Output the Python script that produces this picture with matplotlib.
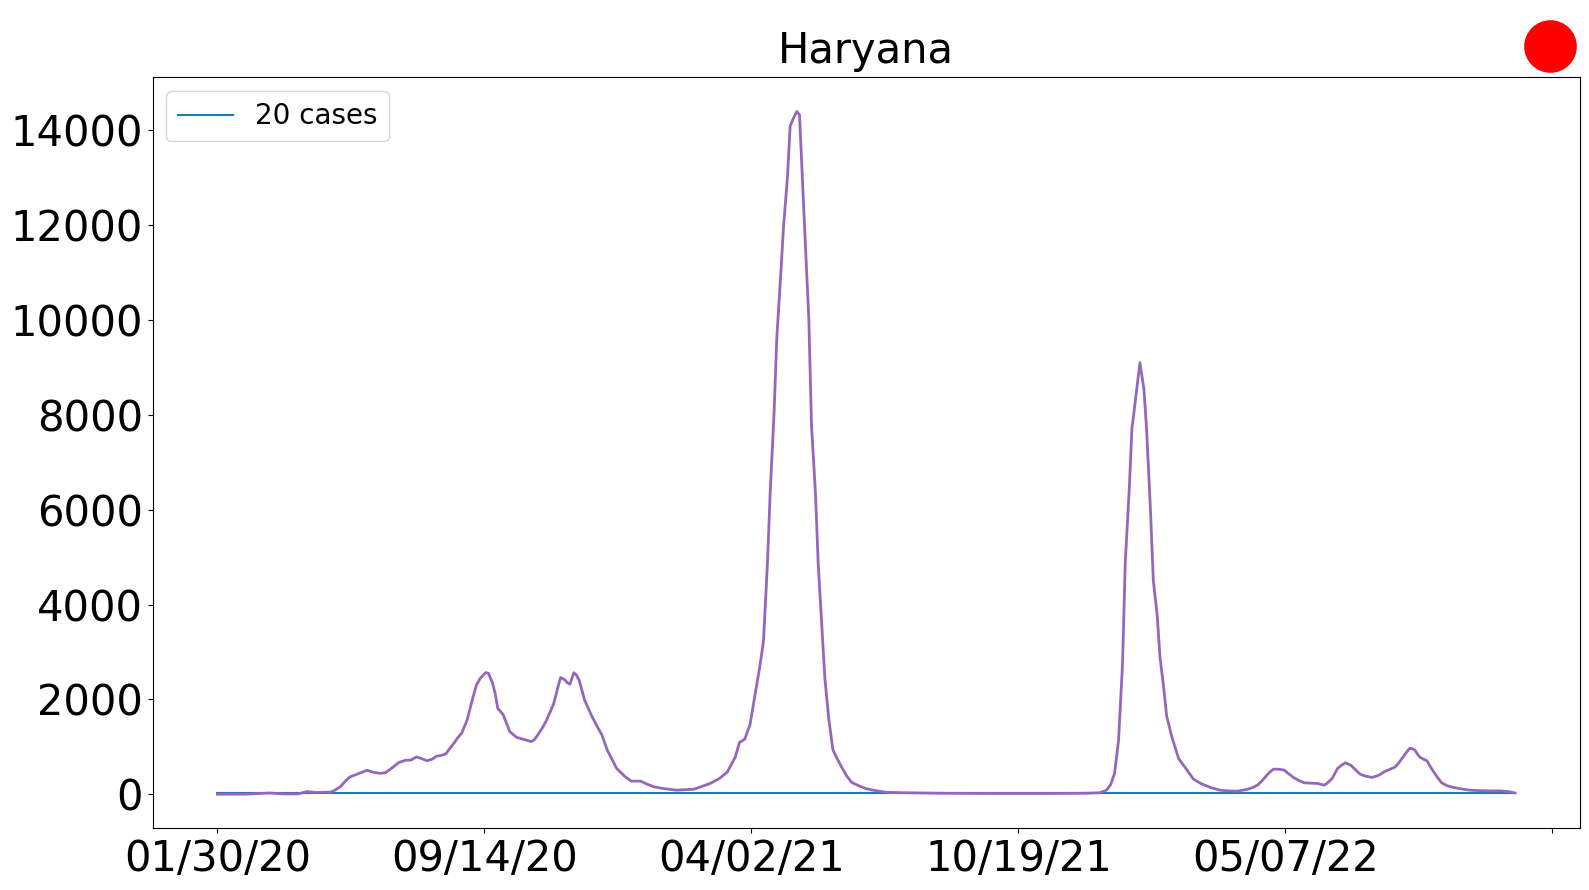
import matplotlib
matplotlib.use("Agg")
import matplotlib.pyplot as plt
from matplotlib.lines import Line2D

# day index (days since first record) and 7-day avg daily cases
days = [0, 20, 39, 50, 60, 67, 75, 85, 88, 92, 96, 99, 104, 109, 112, 117, 122, 126, 131, 136,
        141, 145, 149, 153, 157, 161, 164, 168, 171, 174, 177, 180, 183, 187, 191, 194, 197, 201, 203, 206,
        208, 210, 214, 219, 224, 230, 235, 237, 239, 243, 246, 249, 252, 255, 257, 260, 262, 264, 267, 269,
        271, 275, 280, 285, 288, 292, 299, 305, 310, 317, 322, 327, 335, 344, 357, 369, 376, 382, 388, 391,
        395, 399, 403, 406, 409, 412, 414, 417, 419, 422, 424, 427, 429, 431, 434, 436, 438, 440, 443, 445,
        448, 450, 453, 455, 458, 461, 464, 467, 471, 475, 481, 486, 491, 501, 516, 540, 580, 620, 650, 661,
        666, 669, 672, 675, 678, 680, 683, 685, 688, 691, 694, 696, 699, 701, 704, 706, 709, 711, 715, 720,
        725, 731, 737, 744, 751, 757, 764, 771, 775, 779, 782, 785, 788, 791, 795, 799, 802, 806, 810, 814,
        818, 824, 829, 831, 835, 839, 842, 845, 849, 853, 856, 860, 865, 870, 874, 878, 882, 885, 888, 890,
        893, 895, 897, 899, 901, 904, 906, 909, 911, 914, 917, 921, 926, 932, 938, 945, 952, 961, 967, 972]
cases = [0, 0, 25, 5, 5, 55, 35, 45, 85, 155, 280, 360, 415, 470, 505, 460, 440, 455, 560, 670,
         715, 720, 785, 750, 705, 740, 800, 820, 850, 960, 1070, 1190, 1290, 1560, 2000, 2300, 2450, 2565, 2550, 2350,
         2130, 1810, 1680, 1320, 1200, 1150, 1110, 1140, 1210, 1380, 1530, 1720, 1920, 2250, 2460, 2420, 2350, 2320, 2560, 2510,
         2400, 1990, 1670, 1400, 1250, 930, 545, 380, 275, 275, 210, 155, 115, 85, 105, 226, 330, 470, 790, 1090,
         1160, 1475, 2150, 2640, 3220, 4870, 6330, 8070, 9625, 10980, 11950, 13020, 14090, 14230, 14400, 14330, 13115, 11850, 10010, 7780,
         6325, 4870, 3410, 2445, 1570, 940, 760, 600, 400, 250, 170, 116, 85, 40, 30, 20, 15, 15, 20, 30,
         85, 200, 437, 1140, 2760, 4880, 6430, 7700, 8400, 9100, 8540, 7700, 5930, 4520, 3750, 2900, 2200, 1650, 1200, 750,
         560, 320, 220, 140, 85, 70, 64, 99, 135, 190, 270, 366, 460, 528, 525, 510, 440, 353, 290, 240,
         235, 226, 190, 226, 331, 543, 610, 663, 610, 500, 423, 380, 353, 400, 472, 522, 570, 663, 780, 860,
         966, 960, 930, 840, 775, 730, 705, 560, 472, 350, 240, 180, 141, 110, 85, 75, 70, 70, 55, 25]

threshold = 20
tick_pos = [0, 200, 400, 600, 800, 1000]
tick_labels = ['01/30/20', '09/14/20', '04/02/21', '10/19/21', '05/07/22', '']

fig = plt.figure(figsize=(15.89, 8.9), dpi=100)
ax = fig.add_axes([0.096, 0.0693, 0.8983, 0.8438])

ax.plot([days[0], days[-1]], [threshold, threshold], color='C0', lw=1.5, label='20 cases')
ax.plot(days, cases, color='C4', lw=2)

ax.set_xticks(tick_pos)
ax.set_xticklabels(tick_labels)
ax.tick_params(labelsize=30)
ax.set_title('Haryana', fontsize=30, pad=10)
ax.legend(loc='upper left', fontsize=20)

# red status dot in the corner
fig.add_artist(Line2D([0.9757], [0.948], marker='o', markersize=37.9, color='red',
                      markeredgewidth=0, transform=fig.transFigure))

fig.savefig('out.png', dpi=100)
